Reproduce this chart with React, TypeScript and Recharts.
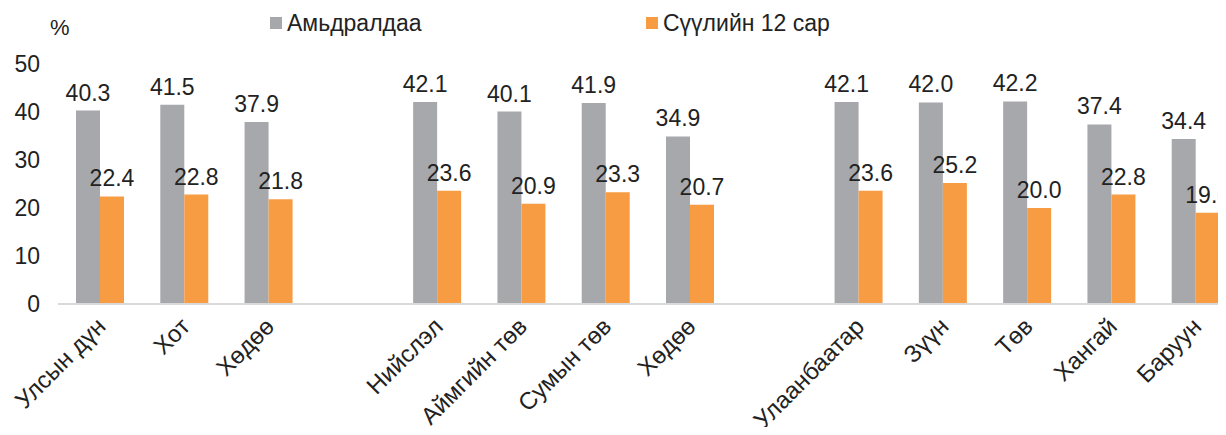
import React from 'react';
import { BarChart, Bar, XAxis, YAxis, LabelList, Legend } from 'recharts';

const categories = ['Улсын дүн', 'Хот', 'Хөдөө', '', 'Нийслэл', 'Аймгийн төв', 'Сумын төв', 'Хөдөө', '', 'Улаанбаатар', 'Зүүн', 'Төв', 'Хангай', 'Баруун'];
const lifetime = [40.3, 41.5, 37.9, null, 42.1, 40.1, 41.9, 34.9, null, 42.1, 42.0, 42.2, 37.4, 34.4];
const last12 = [22.4, 22.8, 21.8, null, 23.6, 20.9, 23.3, 20.7, null, 23.6, 25.2, 20.0, 22.8, 19.0];
const yTicks = [0, 10, 20, 30, 40, 50];
const seriesNames = ['Амьдралдаа', 'Сүүлийн 12 сар'];
const unitLabel = '%';

const GRAY = '#A7A8AB';
const ORANGE = '#F79C42';
const TEXT = '#222222';
const FONT = '"Liberation Sans", Arial, sans-serif';

const data = categories.map((name, i) => ({ name, a: lifetime[i], b: last12[i] }));

const XTick = (props: any) => {
  const { x, y, payload } = props;
  return (
    <text x={x + 7} y={y + 16} textAnchor="end" transform={`rotate(-45, ${x + 7}, ${y + 16})`} fontSize={24} fill={TEXT} fontFamily={FONT}>
      {payload.value}
    </text>
  );
};

const LegendContent = () => (
  <div style={{ position: 'relative', width: 1240, height: 40, fontFamily: FONT, color: TEXT }}>
    <div style={{ position: 'absolute', left: 42, top: 6, fontSize: 22, lineHeight: '28px' }}>{unitLabel}</div>
    <div style={{ position: 'absolute', left: 262, top: 9, width: 12, height: 12, background: GRAY }} />
    <div style={{ position: 'absolute', left: 279, top: 0, fontSize: 23, lineHeight: '30px' }}>{seriesNames[0]}</div>
    <div style={{ position: 'absolute', left: 638, top: 9, width: 12, height: 12, background: ORANGE }} />
    <div style={{ position: 'absolute', left: 655, top: 0, fontSize: 23, lineHeight: '30px' }}>{seriesNames[1]}</div>
  </div>
);

const fmt = (v: any) => (v == null ? '' : Number(v).toFixed(1));

export default function App() {
  return (
    <div style={{ width: 1218, height: 427, overflow: 'hidden', marginBottom: -8 }}>
      <BarChart width={1240} height={427} data={data} margin={{ top: 16, right: 10, bottom: 0, left: 0 }} barGap={0} barSize={24}>
        <XAxis dataKey="name" interval={0} tick={<XTick />} tickLine={false} axisLine={{ stroke: '#D9D9D9', strokeWidth: 2 }} height={131} />
        <YAxis domain={[0, 50]} ticks={yTicks} width={50} axisLine={false} tickLine={false} tickSize={0} tickMargin={18} tick={{ fontSize: 23, fill: TEXT, fontFamily: FONT }} />
        <Legend verticalAlign="top" content={<LegendContent />} wrapperStyle={{ top: 0, left: 0, width: 1240, height: 40 }} />
        <Bar dataKey="a" fill={GRAY} isAnimationActive={false}>
          <LabelList dataKey="a" position="top" offset={10} formatter={fmt} style={{ fontSize: 23, fill: TEXT, fontFamily: FONT }} />
        </Bar>
        <Bar dataKey="b" fill={ORANGE} isAnimationActive={false}>
          <LabelList dataKey="b" position="top" offset={10} formatter={fmt} style={{ fontSize: 23, fill: TEXT, fontFamily: FONT }} />
        </Bar>
      </BarChart>
    </div>
  );
}
